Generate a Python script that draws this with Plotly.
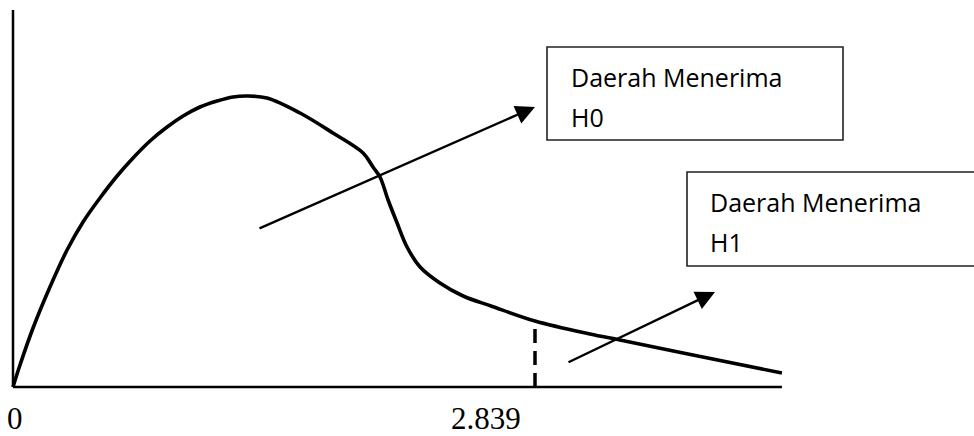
import numpy as np
import plotly.graph_objects as go

# ---- data (schematic density curve, arbitrary units) ----
curve_x = [0.000, 0.038, 0.109, 0.201, 0.294, 0.381, 0.473, 0.566, 0.653, 0.745,
           0.838, 0.925, 1.017, 1.110, 1.197, 1.273, 1.381, 1.561, 1.740, 1.904,
           1.958, 1.996, 2.040, 2.089, 2.143, 2.214, 2.322, 2.448, 2.600, 2.839,
           3.138, 3.301, 3.698, 4.182]
curve_y = [0.000, 0.022, 0.059, 0.100, 0.137, 0.165, 0.189, 0.211, 0.229, 0.246,
           0.260, 0.271, 0.280, 0.286, 0.290, 0.291, 0.289, 0.274, 0.254, 0.234,
           0.220, 0.210, 0.187, 0.164, 0.140, 0.120, 0.104, 0.091, 0.081, 0.066,
           0.053, 0.047, 0.032, 0.014]
critical_value = 2.839
tick_vals = [0, 2.839]
tick_text = ["0", "2.839"]
box_lines_h0 = ["Daerah Menerima", "H0"]
box_lines_h1 = ["Daerah Menerima", "H1"]
axis_x_end = 4.182
axis_y_top = 0.377

# ---- scale: data units -> pixels (figure is the plot area) ----
W, H = 974, 436
SX = 522 / 2.839        # px per x unit
SY = 1000.0             # px per y unit
X0_PX, Y0_PX = 13, 387  # pixel position of the origin
x_range = [-X0_PX / SX, (W - X0_PX) / SX]
y_range = [-(H - Y0_PX) / SY, Y0_PX / SY]

def px_x(p):
    return (p - X0_PX) / SX

def px_y(p):
    return (Y0_PX - p) / SY

fig = go.Figure()

# dashed critical line
dash_top = float(np.interp(critical_value, curve_x, curve_y))
fig.add_trace(go.Scatter(x=[critical_value, critical_value], y=[0, dash_top],
                         mode="lines", line=dict(color="black", width=3.5, dash="14px,8px"),
                         hoverinfo="skip"))
# axes
fig.add_trace(go.Scatter(x=[0, 0], y=[axis_y_top, 0], mode="lines",
                         line=dict(color="black", width=2.5), hoverinfo="skip"))
fig.add_trace(go.Scatter(x=[0, axis_x_end], y=[0, 0], mode="lines",
                         line=dict(color="black", width=2.5), hoverinfo="skip"))
# curve
fig.add_trace(go.Scatter(x=curve_x, y=curve_y, mode="lines",
                         line=dict(color="black", width=3.6, shape="spline", smoothing=1.0),
                         hoverinfo="skip"))

annotations = []
# arrows
for (tx, ty, hx, hy) in [(258, 229, 535, 107), (567, 363, 715, 292)]:
    annotations.append(dict(x=px_x(hx), y=px_y(hy), ax=px_x(tx), ay=px_y(ty),
                            xref="x", yref="y", axref="x", ayref="y", text="",
                            showarrow=True, arrowhead=2, arrowsize=1.6,
                            arrowwidth=2.4, arrowcolor="black", standoff=0))

# boxes
shapes = [
    dict(type="rect", xref="x", yref="y", x0=px_x(547), x1=px_x(843),
         y0=px_y(140), y1=px_y(47), line=dict(color="#222", width=1.6)),
    dict(type="rect", xref="x", yref="y", x0=px_x(687), x1=px_x(980),
         y0=px_y(266), y1=px_y(172), line=dict(color="#222", width=1.6)),
]

txt_font = dict(family="Open Sans", size=25, color="black")
for lines, left, base in [(box_lines_h0, 570, 87), (box_lines_h1, 709, 212)]:
    for i, t in enumerate(lines):
        annotations.append(dict(x=px_x(left), y=px_y(base + 40 * i - 9.7), xref="x", yref="y",
                                text=t, showarrow=False, xanchor="left", yanchor="middle",
                                font=txt_font, borderpad=0))

# tick labels
lab_font = dict(family="Liberation Serif", size=31, color="black")
for v, t, shift in zip(tick_vals, tick_text, [2, -49]):
    annotations.append(dict(x=v, y=px_y(418.3), xref="x", yref="y", text=t, showarrow=False,
                            xanchor="center", yanchor="middle", xshift=shift,
                            font=lab_font, borderpad=0))

fig.update_layout(
    width=W, height=H, margin=dict(l=0, r=0, t=0, b=0),
    paper_bgcolor="white", plot_bgcolor="white", showlegend=False,
    xaxis=dict(range=x_range, visible=False, fixedrange=True),
    yaxis=dict(range=y_range, visible=False, fixedrange=True),
    shapes=shapes, annotations=annotations,
)
fig.write_html("out.html", config={"displayModeBar": False},
               post_script="document.body.style.margin='0';document.body.style.padding='0';")
